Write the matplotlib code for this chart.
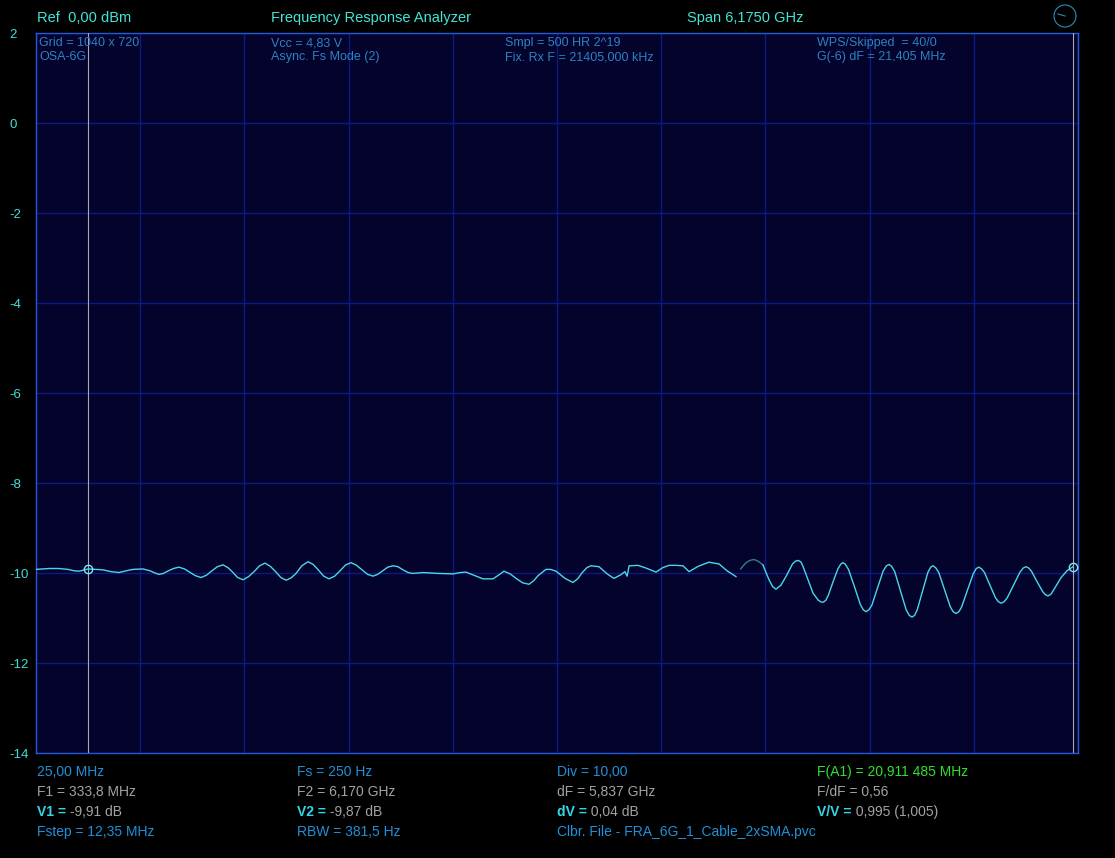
import numpy as np
import matplotlib.pyplot as plt
from matplotlib.patches import Ellipse

# sweep: 25 MHz .. 6200 MHz, Span 6,175 GHz
f_start = 25.0
f_stop = 6200.0

# trace (MHz, dB)
freq_main = [25, 102, 160, 215, 250, 280, 333.8, 380, 422, 470, 517, 560, 600, 659,
             700, 730, 754, 780, 810, 840, 872, 905, 935, 970, 1003, 1035, 1068, 1100,
             1133, 1162, 1190, 1220, 1252, 1285, 1317, 1350, 1382, 1413, 1445, 1476,
             1507, 1536, 1566, 1600, 1637, 1668, 1700, 1730, 1761, 1795, 1827, 1860,
             1892, 1925, 1957, 1990, 2022, 2050, 2080, 2110, 2141, 2170, 2200, 2230,
             2259, 2318, 2413, 2496, 2540, 2573, 2620, 2674, 2733, 2765, 2798, 2835,
             2870, 2910, 2947, 2975, 3000, 3047, 3075, 3107, 3160, 3207, 3235, 3260,
             3290, 3314, 3361, 3410, 3450, 3490, 3515, 3528, 3540, 3592, 3640, 3699,
             3740, 3776, 3820, 3859, 3895, 3950, 4013, 4073, 4120, 4173]
db_main = [-9.92, -9.90, -9.90, -9.92, -9.95, -9.96, -9.91, -9.92, -9.93, -9.97, -9.99,
           -9.95, -9.92, -9.91, -9.95, -10.00, -10.03, -10.01, -9.95, -9.90, -9.87,
           -9.91, -9.98, -10.06, -10.10, -10.05, -9.95, -9.86, -9.82, -9.88, -9.98,
           -10.10, -10.15, -10.08, -9.97, -9.84, -9.78, -9.85, -9.97, -10.10, -10.16,
           -10.11, -10.01, -9.84, -9.75, -9.81, -9.94, -10.07, -10.13, -10.07, -9.95,
           -9.82, -9.77, -9.83, -9.93, -10.03, -10.07, -10.03, -9.95, -9.87, -9.84,
           -9.86, -9.93, -9.99, -10.01, -9.99, -10.01, -10.02, -9.99, -9.98, -10.05,
           -10.13, -10.13, -10.05, -9.96, -10.02, -10.12, -10.22, -10.25, -10.17,
           -10.06, -9.92, -9.92, -9.96, -10.12, -10.21, -10.13, -10.00, -9.88, -9.84,
           -9.86, -10.02, -10.12, -10.04, -9.97, -10.07, -9.84, -9.83, -9.89, -9.98,
           -9.88, -9.83, -9.83, -9.84, -9.97, -9.85, -9.76, -9.80, -9.95, -10.08]

# dim segment
freq_dim = [4201, 4230, 4255, 4280, 4305, 4333]
db_dim = [-9.91, -9.78, -9.72, -9.70, -9.74, -9.82]

freq_hi = [4333, 4350, 4369, 4390, 4410, 4440, 4475, 4508, 4525, 4541, 4557, 4570, 4600,
           4630, 4660, 4675, 4689, 4705, 4720, 4748, 4778, 4795, 4807, 4820, 4840, 4875,
           4910, 4928, 4944, 4960, 4978, 5012, 5046, 5065, 5080, 5095, 5114, 5148, 5182,
           5200, 5216, 5232, 5247, 5279, 5310, 5327, 5341, 5356, 5375, 5409, 5443, 5460,
           5477, 5494, 5511, 5545, 5579, 5597, 5613, 5629, 5646, 5678, 5711, 5728, 5744,
           5762, 5781, 5818, 5855, 5875, 5892, 5908, 5924, 5957, 5990, 6006, 6022, 6040,
           6060, 6100, 6135, 6170]
db_hi = [-9.82, -9.98, -10.15, -10.30, -10.36, -10.27, -10.04, -9.80, -9.74, -9.72,
         -9.75, -9.85, -10.15, -10.45, -10.60, -10.64, -10.65, -10.61, -10.50, -10.20,
         -9.90, -9.80, -9.77, -9.80, -9.92, -10.30, -10.70, -10.82, -10.86, -10.82,
         -10.72, -10.33, -9.95, -9.84, -9.81, -9.85, -9.97, -10.40, -10.82, -10.94,
         -10.98, -10.94, -10.82, -10.40, -9.99, -9.87, -9.84, -9.88, -9.99, -10.37,
         -10.75, -10.86, -10.90, -10.86, -10.75, -10.38, -10.02, -9.90, -9.87, -9.91,
         -9.99, -10.27, -10.55, -10.64, -10.67, -10.64, -10.55, -10.27, -9.99, -9.89,
         -9.86, -9.89, -9.96, -10.19, -10.41, -10.48, -10.51, -10.47, -10.35, -10.10,
         -9.95, -9.86]

marker_f = [333.8, 6170]
marker_v = [-9.91, -9.87]

yticks = [2, 0, -2, -4, -6, -8, -10, -12, -14]

W, H = 1115, 858
fig = plt.figure(figsize=(W / 100, H / 100), dpi=100, facecolor='black')
plt.rcParams['font.family'] = ['Liberation Sans', 'DejaVu Sans']

L, R, T, B = 36, 1078, 33, 753
ax = fig.add_axes([L / W, 1 - B / H, (R - L) / W, (B - T) / H])
ax.set_facecolor('#03032c')
ax.set_xlim(f_start, f_stop)
ax.set_ylim(-14, 2)

ax.set_xticks(np.linspace(f_start, f_stop, 11))
ax.set_xticklabels([])
ax.set_yticks(yticks)
ax.set_yticklabels([str(v) for v in yticks], color='#3fe0d4', fontsize=9.5, ha='left')
ax.tick_params(length=0, axis='y', pad=27 * 0.72)
ax.tick_params(length=0, axis='x')
ax.grid(True, color='#0b1a84', lw=1.0)
for s in ax.spines.values():
    s.set_color('#2458d8')
    s.set_linewidth(1.0)

# markers
for f in marker_f:
    ax.axvline(f, color='#a8a8b4', lw=0.8, zorder=3)
ax.plot(freq_main, db_main, color='#4ad6ea', lw=1.0, zorder=4)
ax.plot(freq_dim, db_dim, color='#2f7f8f', lw=1.0, zorder=4)
ax.plot(freq_hi, db_hi, color='#4ad6ea', lw=1.0, zorder=4)
ax.plot(marker_f, marker_v, 'o', mfc='none', mec='#7ee8f0', ms=6, mew=1.0, zorder=5)


def ftxt(x, y, s, color, size=10, **kw):
    return fig.text(x / W, 1 - y / H, s, color=color, fontsize=size, va='center', ha='left', **kw)


# header
cyan = '#40e6d6'
ftxt(37, 18, 'Ref  0,00 dBm', cyan, 10.5)
ftxt(271, 18, 'Frequency Response Analyzer', cyan, 10.5)
ftxt(687, 18, 'Span 6,1750 GHz', cyan, 10.5)
clock = Ellipse((1065 / W, 1 - 16 / H), 22 / W, 22 / H, transform=fig.transFigure,
                fill=False, color='#2a8fb0', lw=0.8)
fig.add_artist(clock)
fig.add_artist(plt.Line2D([1058 / W, 1065 / W], [1 - 14 / H, 1 - 16 / H],
                          color='#2a8fb0', lw=0.8))

# info inside grid
blue = '#2c82c4'
info = [(39, 'Grid = 1040 x 720', 'OSA-6G'),
        (271, 'Vcc = 4,83 V', 'Async. Fs Mode (2)'),
        (505, 'Smpl = 500 HR 2^19', 'Fix. Rx F = 21405,000 kHz'),
        (817, 'WPS/Skipped  = 40/0', 'G(-6) dF = 21,405 MHz')]
for x, a, b in info:
    ftxt(x, 43, a, blue, 9)
    ftxt(x, 57, b, blue, 9)

# bottom readout
gray = '#a2a2a2'
blue2 = '#2090d8'
green = '#30e030'
vcol = '#30d8e8'
ftxt(37, 772, '25,00 MHz', blue2)
ftxt(297, 772, 'Fs = 250 Hz', blue2)
ftxt(557, 772, 'Div = 10,00', blue2)
ftxt(817, 772, 'F(A1) = 20,911 485 MHz', green)
ftxt(37, 792, 'F1 = 333,8 MHz', gray)
ftxt(297, 792, 'F2 = 6,170 GHz', gray)
ftxt(557, 792, 'dF = 5,837 GHz', gray)
ftxt(817, 792, 'F/dF = 0,56', gray)
for x, lab, val in [(37, 'V1 =', ' -9,91 dB'), (297, 'V2 =', ' -9,87 dB'),
                    (557, 'dV =', ' 0,04 dB'), (817, 'V/V =', ' 0,995 (1,005)')]:
    t = ftxt(x, 812, lab, vcol, fontweight='bold')
    fig.add_artist(plt.Annotation(val, xy=(1, 0.5), xycoords=t, va='center',
                                  ha='left', color=gray, fontsize=10))
ftxt(37, 832, 'Fstep = 12,35 MHz', blue2)
ftxt(297, 832, 'RBW = 381,5 Hz', blue2)
ftxt(557, 832, 'Clbr. File - FRA_6G_1_Cable_2xSMA.pvc', blue2)

fig.savefig('out.png', dpi=100, facecolor='black')
